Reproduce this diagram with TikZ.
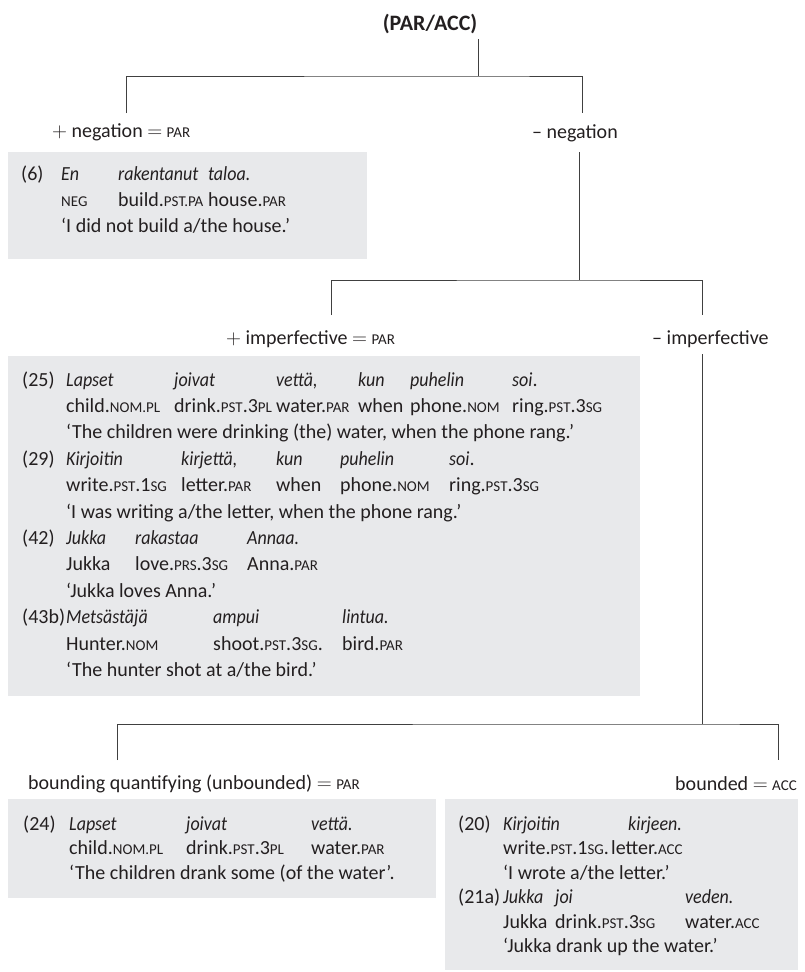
\documentclass[tikz,border=0pt]{standalone}
\usepackage{fontspec}
\setmainfont{Carlito}[ItalicFeatures={FakeStretch=0.9}]
\definecolor{boxgrey}{HTML}{E8E9EB}
\definecolor{ink}{HTML}{231F20}
\newcommand\smc[1]{{\fontsize{15}{15}\selectfont #1}}

\begin{document}
\begin{tikzpicture}[x=1pt,y=-1pt]

\tikzset{
    branch/.style={line width=0.9pt,black!75},
    lab/.style={anchor=west,inner sep=0pt,text=ink,font=\fontsize{20}{22}\selectfont},
    ex/.style={anchor=base west,inner sep=0pt,text=ink,font=\fontsize{20}{#1}\selectfont},
    shade/.style={fill=boxgrey}}

\useasboundingbox (0,0) rectangle (804,972);

\fill[shade] (8,152) rectangle (367,259);
\fill[shade] (8,356) rectangle (640,696);
\fill[shade] (8,799) rectangle (436,898);
\fill[shade] (445,799) rectangle (798,970);

\node[anchor=center,inner sep=0pt,text=ink,font=\bfseries\fontsize{22}{24}\selectfont] (root) at (430,24) {(PAR/ACC)};

\node[lab] (pneg) at (52,132) {$+$ negation $=$ \smc{PAR}};
\node[lab] (nneg) at (532,133) {-- negation};
\node[lab] (pimp) at (226,339) {$+$ imperfective $=$ \smc{PAR}};
\node[lab] (nimp) at (652,339) {-- imperfective};
\node[lab] (pbnd) at (28,784) {bounding quantifying (unbounded) $=$ \smc{PAR}};
\node[lab,anchor=east] (nbnd) at (797,784) {bounded $=$ \smc{ACC}};

\coordinate (s1) at (478,39);
\coordinate (b1) at (478,76);
\coordinate (l1) at (126,113);
\coordinate (r1) at (582,113);
\coordinate (s2) at (579,152);
\coordinate (b2) at (579,280);
\coordinate (l2) at (331,315);
\coordinate (r2) at (702,315);
\coordinate (s3) at (702,354);
\coordinate (b3) at (702,724);
\coordinate (l3) at (117,760);
\coordinate (r3) at (778,760);

\draw[branch] (s1) -- (b1);
\draw[branch] (l1) |- (b1) -| (r1);
\draw[branch] (s2) -- (b2);
\draw[branch] (l2) |- (b2) -| (r2);
\draw[branch] (s3) -- (b3);
\draw[branch] (l3) |- (b3) -| (r3);

\node[ex=26] (ex6) at (21,180) {\begin{tabular}[t]{@{}p{40pt}@{}p{57pt}@{}p{90pt}@{}l@{}}
(6) & \emph{En} & \emph{rakentanut} & \emph{taloa.}\\
 & \smc{NEG} & build.\smc{PST.PA} & house.\smc{PAR}\\
 & \multicolumn{3}{@{}l@{}}{`I did not build a/the house.'}
\end{tabular}};

\node[ex=26.4] (ex25) at (22,386) {\begin{tabular}[t]{@{}p{44pt}@{}p{108pt}@{}p{102pt}@{}p{82pt}@{}p{52pt}@{}p{102pt}@{}l@{}}
(25) & \emph{Lapset} & \emph{joivat} & \emph{vettä,} & \emph{kun} & \emph{puhelin} & \emph{soi}.\\
 & child.\smc{NOM.PL} & drink.\smc{PST}.3\smc{PL} & water.\smc{PAR} & when & phone.\smc{NOM} & ring.\smc{PST}.3\smc{SG}\\
 & \multicolumn{6}{@{}l@{}}{`The children were drinking (the) water, when the phone rang.'}
\end{tabular}};

\node[ex=26.4] (ex29) at (22,465.2) {\begin{tabular}[t]{@{}p{44pt}@{}p{115pt}@{}p{95pt}@{}p{64pt}@{}p{109pt}@{}l@{}}
(29) & \emph{Kirjoitin} & \emph{kirjettä,} & \emph{kun} & \emph{puhelin} & \emph{soi}.\\
 & write.\smc{PST}.1\smc{SG} & letter.\smc{PAR} & when & phone.\smc{NOM} & ring.\smc{PST}.3\smc{SG}\\
 & \multicolumn{5}{@{}l@{}}{`I was writing a/the letter, when the phone rang.'}
\end{tabular}};

\node[ex=26.4] (ex42) at (22,544.4) {\begin{tabular}[t]{@{}p{44pt}@{}p{69pt}@{}p{112pt}@{}l@{}}
(42) & \emph{Jukka} & \emph{rakastaa} & \emph{Annaa.}\\
 & Jukka & love.\smc{PRS}.3\smc{SG} & Anna.\smc{PAR}\\
 & \multicolumn{3}{@{}l@{}}{`Jukka loves Anna.'}
\end{tabular}};

\node[ex=26.4] (ex43b) at (22,623.6) {\begin{tabular}[t]{@{}p{44pt}@{}p{147pt}@{}p{129pt}@{}l@{}}
(43b) & \emph{Metsästäjä} & \emph{ampui} & \emph{lintua.}\\
 & Hunter.\smc{NOM} & shoot.\smc{PST}.3\smc{SG}. & bird.\smc{PAR}\\
 & \multicolumn{3}{@{}l@{}}{`The hunter shot at a/the bird.'}
\end{tabular}};

\node[ex=24.5] (ex24) at (23,830) {\begin{tabular}[t]{@{}p{46pt}@{}p{117pt}@{}p{125pt}@{}l@{}}
(24) & \emph{Lapset} & \emph{joivat} & \emph{vettä.}\\
 & child.\smc{NOM.PL} & drink.\smc{PST}.3\smc{PL} & water.\smc{PAR}\\
 & \multicolumn{3}{@{}l@{}}{`The children drank some (of the water'.}
\end{tabular}};

\node[ex=24.5] (ex20) at (458,830) {\begin{tabular}[t]{@{}p{45pt}@{}p{108pt}@{}l@{}}
(20) & \emph{Kirjoitin} & \hspace*{17pt}\emph{kirjeen.}\\
 & write.\smc{PST}.1\smc{SG}. & letter.\smc{ACC}\\
 & \multicolumn{2}{@{}l@{}}{`I wrote a/the letter.'}
\end{tabular}};

\node[ex=24.5] (ex21a) at (458,903.5) {\begin{tabular}[t]{@{}p{45pt}@{}p{52pt}@{}p{130pt}@{}l@{}}
(21a) & \emph{Jukka} & \emph{joi} & \emph{veden.}\\
 & Jukka & drink.\smc{PST}.3\smc{SG} & water.\smc{ACC}\\
 & \multicolumn{3}{@{}l@{}}{`Jukka drank up the water.'}
\end{tabular}};

\end{tikzpicture}
\end{document}
